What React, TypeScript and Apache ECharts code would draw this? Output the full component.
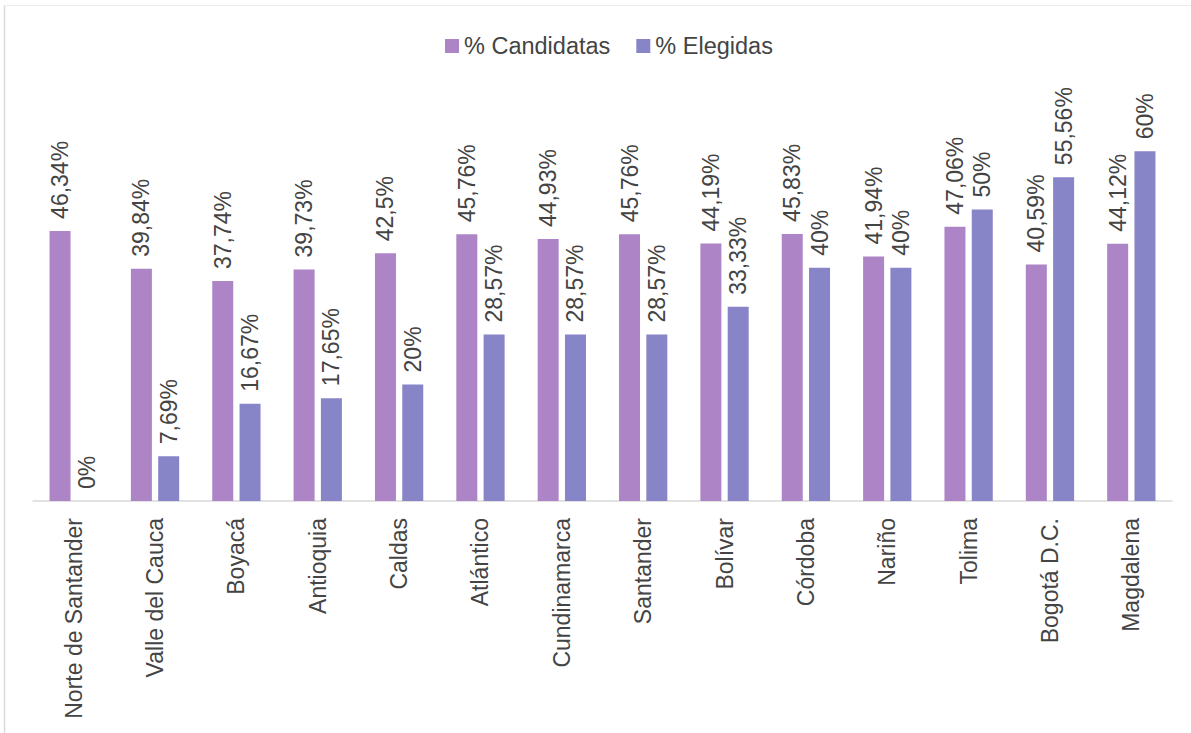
import React, { useEffect, useRef } from "react";
import * as echarts from "echarts";

const categories = [
  "Norte de Santander",
  "Valle del Cauca",
  "Boyacá",
  "Antioquia",
  "Caldas",
  "Atlántico",
  "Cundinamarca",
  "Santander",
  "Bolívar",
  "Córdoba",
  "Nariño",
  "Tolima",
  "Bogotá D.C.",
  "Magdalena",
];
const candidatas = [46.34, 39.84, 37.74, 39.73, 42.5, 45.76, 44.93, 45.76, 44.19, 45.83, 41.94, 47.06, 40.59, 44.12];
const elegidas = [0, 7.69, 16.67, 17.65, 20, 28.57, 28.57, 28.57, 33.33, 40, 40, 50, 55.56, 60];

const FONT = "'Liberation Sans', Arial, sans-serif";
const TEXT = "#444444";

const fmt = (p: any) => String(p.value).replace(".", ",") + "%";

export default function App() {
  const ref = useRef<HTMLDivElement>(null);
  useEffect(() => {
    if (!ref.current) return;
    const chart = echarts.init(ref.current, undefined, { renderer: "svg" });
    const label = {
      show: true,
      position: "top",
      rotate: 90,
      align: "left",
      verticalAlign: "middle",
      distance: 12,
      color: TEXT,
      fontSize: 23,
      fontFamily: FONT,
      formatter: fmt,
    };
    chart.setOption({
      animation: false,
      backgroundColor: "#fff",
      textStyle: { fontFamily: FONT },
      graphic: [
        { type: "line", shape: { x1: 4.5, y1: 5, x2: 4.5, y2: 740 }, style: { stroke: "#d9d9d9", lineWidth: 1.5 } },
        { type: "line", shape: { x1: 4, y1: 5.5, x2: 1200, y2: 5.5 }, style: { stroke: "#ebebeb", lineWidth: 1 } },
      ],
      legend: {
        top: 29,
        left: 440,
        itemWidth: 14,
        itemHeight: 14,
        itemGap: 26,
        icon: "rect",
        textStyle: { color: TEXT, fontSize: 23.5, fontFamily: FONT },
        data: ["% Candidatas", "% Elegidas"],
      },
      grid: { left: 33, right: 19, top: 93, bottom: 232, containLabel: false },
      xAxis: {
        type: "category",
        data: categories,
        axisLine: { lineStyle: { color: "#d9d9d9", width: 1.5 } },
        axisTick: { show: false },
        axisLabel: { rotate: 90, margin: 17, color: TEXT, fontSize: 23, fontFamily: FONT, interval: 0 },
      },
      yAxis: { type: "value", min: 0, max: 70, show: false, splitLine: { show: false } },
      series: [
        {
          name: "% Candidatas",
          type: "bar",
          data: candidatas,
          barWidth: 21,
          barGap: "30%",
          itemStyle: { color: "#AD84C6" },
          label,
        },
        {
          name: "% Elegidas",
          type: "bar",
          data: elegidas,
          barWidth: 21,
          itemStyle: { color: "#8784C7" },
          label,
        },
      ],
    });
    return () => chart.dispose();
  }, []);
  return <div ref={ref} style={{ position: "absolute", left: 0, top: 0, width: 1191, height: 733 }} />;
}
